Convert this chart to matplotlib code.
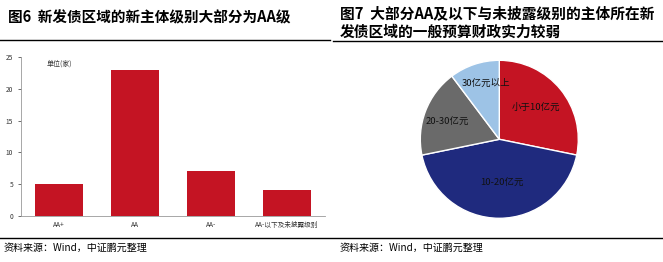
import matplotlib
matplotlib.use('Agg')
import matplotlib.pyplot as plt
from matplotlib.lines import Line2D

plt.rcParams['font.family'] = ['Noto Sans CJK SC', 'DejaVu Sans']

# bar chart data
grades = ['AA+', 'AA', 'AA-', 'AA-以下及未披露级别']
counts = [5, 23, 7, 4]
yticks = [0, 5, 10, 15, 20, 25]

# pie chart data
scale_labels = ['小于10亿元', '10-20亿元', '20-30亿元', '30亿元以上']
scale_counts = [11, 17, 7, 4]
pie_colors = ['#C41423', '#1F2A7E', '#6A6A6A', '#9DC3E6']

fig = plt.figure(figsize=(6.63, 2.62), dpi=100)
W, H = 663, 262

# titles and rules
fig.text(8 / W, 1 - 17 / H, '图6  新发债区域的新主体级别大部分为AA级', fontsize=10.5,
         fontweight='bold', va='center', ha='left')
fig.text(340 / W, 1 - 13 / H, '图7  大部分AA及以下与未披露级别的主体所在新', fontsize=10.6,
         fontweight='bold', va='center', ha='left')
fig.text(340 / W, 1 - 32 / H, '发债区域的一般预算财政实力较弱', fontsize=10.6,
         fontweight='bold', va='center', ha='left')
fig.add_artist(Line2D([0, 330 / W], [1 - 40 / H] * 2, color='black', lw=1))
fig.add_artist(Line2D([333 / W, 1], [1 - 41 / H] * 2, color='black', lw=1))
fig.add_artist(Line2D([0, 1], [1 - 238 / H] * 2, color='black', lw=1))
fig.text(4 / W, 1 - 248 / H, '资料来源：Wind，中证鹏元整理', fontsize=7.2, va='center', ha='left')
fig.text(340 / W, 1 - 248 / H, '资料来源：Wind，中证鹏元整理', fontsize=7.2, va='center', ha='left')

# bar chart
ax = fig.add_axes([20.7 / W, 1 - 215.7 / H, (325 - 20.7) / W, (215.7 - 57.3) / H])
x = range(len(grades))
ax.bar(x, counts, width=0.63, color='#C41423')
ax.set_xlim(-0.5, 3.5)
ax.set_ylim(0, 25)
ax.set_yticks(yticks)
ax.set_xticks(list(x))
ax.set_xticklabels(grades)
ax.tick_params(axis='both', labelsize=4.8, colors='#333333', length=2, width=0.5)
ax.tick_params(axis='x', length=0, pad=4)
for s in ['top', 'right']:
    ax.spines[s].set_visible(False)
for s in ['left', 'bottom']:
    ax.spines[s].set_color('#999999')
    ax.spines[s].set_linewidth(0.6)
ax.text(0.085, 0.96, '单位(家)', transform=ax.transAxes, fontsize=5, color='#333333',
        va='center', ha='left')

# pie chart
ax2 = fig.add_axes([(499.3 - 79) / W, 1 - (139.3 + 79) / H, 158 / W, 158 / H])
wedges, texts = ax2.pie(scale_counts, colors=pie_colors, startangle=90, counterclock=False,
                        wedgeprops=dict(edgecolor='white', linewidth=1))
ax2.set_xlim(-1, 1)
ax2.set_ylim(-1, 1)
ax2.set_aspect('equal')
label_pos = [(0.46, 0.40), (0.03, -0.56), (-0.66, 0.21), (-0.17, 0.71)]
for lab, (lx, ly) in zip(scale_labels, label_pos):
    ax2.text(lx, ly, lab, fontsize=6.8, color='#111111', ha='center', va='center')

fig.savefig('out.png', dpi=100)
